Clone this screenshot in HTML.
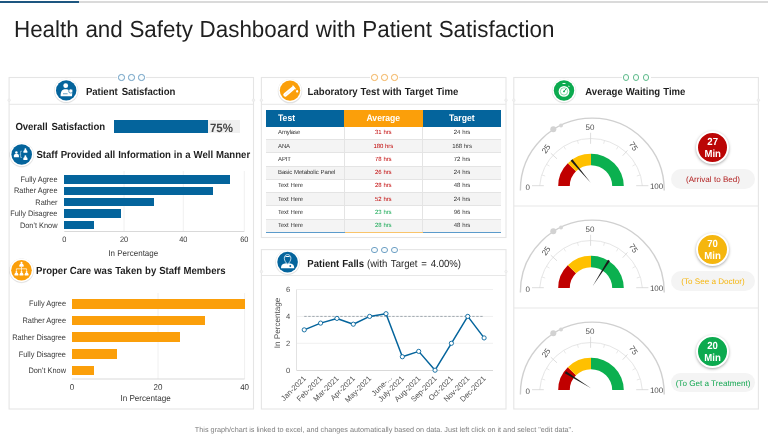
<!DOCTYPE html>
<html>
<head>
<meta charset="utf-8">
<title>Health and Safety Dashboard with Patient Satisfaction</title>
<style>
  html, body { margin: 0; padding: 0; background: #ffffff; }
  body { width: 768px; height: 436px; overflow: hidden; font-family: "Liberation Sans", sans-serif; color: #1f1f1f; text-rendering: geometricPrecision; }
  #page { will-change: transform; filter: blur(0.4px); position: relative; width: 768px; height: 436px; background: #ffffff; overflow: hidden; }
  .abs { position: absolute; white-space: nowrap; }
  .topline-gray { left: 0; top: 1px; width: 768px; height: 2px; background: #dadada; }
  .topline-blue { left: 0; top: 1px; width: 78.8px; height: 2px; background: #1d5680; }
  h1 { position: absolute; margin: 0; left: 14px; top: 17px; font-size: 22.4px; line-height: 26px; font-weight: normal; color: #1f1f1f; white-space: nowrap; word-spacing: 0.45px; transform: scale(1, 1.035); transform-origin: 0 21px; }
  .dots { position: absolute; height: 7px; width: 29px; background: #ffffff; }
  .dots i { position: absolute; top: 0px; width: 4.4px; height: 4.4px; border-radius: 50%; border: 0.8px solid #6d9fc4; background: #f8fcfd; }
  .dots i:nth-child(1) { left: 1.25px; } .dots i:nth-child(2) { left: 11.25px; } .dots i:nth-child(3) { left: 21.25px; }
  .dots.o i { border-color: #f3b25c; background: #fffdf8; }
  .dots.g i { border-color: #5fbb8c; background: #f9fdfb; }
  .ptitle { position: absolute; font-weight: bold; font-size: 9.6px; line-height: 12px; color: #1f1f1f; white-space: nowrap; transform: scale(1, 1.07); transform-origin: 0 8px; word-spacing: 0.25px; }
  .ptitle span { font-weight: normal; word-spacing: 1.1px; }
  .lbl { position: absolute; font-size: 7.4px; line-height: 9px; color: #383838; white-space: nowrap; transform: scale(1, 1.06); transform-origin: 50% 6.5px; }
  .lbl.r { text-align: right; }
  .lbl.c { text-align: center; }
  .bar { position: absolute; background: #04649c; z-index: 2; }
  .bar.o { background: #fb9f0a; }
  table.lab { position: absolute; left: 266px; top: 110.4px; width: 235px; border-collapse: collapse; table-layout: fixed; font-size: 6px; letter-spacing: -0.12px; word-spacing: 0.4px; color: #333333; }
  table.lab th span { display: inline-block; transform: scale(1, 1.09); transform-origin: 50% 75%; }
  table.lab th { height: 16px; padding: 0 0 0.4px 0; color: #ffffff; font-size: 8.6px; letter-spacing: 0; font-weight: bold; background: #04649c; text-align: center; }
  table.lab th.t { text-align: left; padding-left: 12px; }
  table.lab th.a { background: #fb9f0a; }
  table.lab td { height: 10.7px; padding: 1.6px 0 0 0; text-align: center; border-bottom: 1px solid #e4e4e4; border-right: 1px solid #e4e4e4; line-height: 7px; }
  table.lab td:first-child { text-align: left; padding-left: 12px; }
  table.lab td:last-child { border-right: none; }
  table.lab tr.alt td { background: #f4f4f4; }
  table.lab tr:last-child td { border-bottom: 1px solid #5b9bcb; }
  table.lab tr:last-child td:nth-child(2) { border-bottom-color: #f9c46a; }
  table.lab td.red { color: #c00000; }
  table.lab td.grn { color: #12a650; }
  .badge { position: absolute; width: 29.3px; height: 29.3px; border-radius: 50%; border: 2px solid #ffffff; box-shadow: 0 1px 3px rgba(0,0,0,0.35); color: #ffffff; font-weight: bold; font-size: 9.6px; line-height: 10.9px; text-align: center; box-sizing: content-box; }
  .badge b { display: block; padding-top: 4.6px; transform: scale(1, 1.07); transform-origin: 50% 50%; }
  .pill { position: absolute; left: 671px; width: 84px; height: 19.6px; border-radius: 10px; background: #f4f4f4; font-size: 8.1px; line-height: 21px; text-align: center; white-space: nowrap; }
  .footer { position: absolute; left: 0; width: 768px; top: 425px; text-align: center; font-size: 7.26px; line-height: 9px; color: #7f7f7f; white-space: nowrap; }
  svg { position: absolute; left: 0; top: 0; overflow: visible; }
  svg text { font-family: "Liberation Sans", sans-serif; text-rendering: geometricPrecision; }
</style>
</head>
<body>
<div id="page">
  <div class="abs topline-gray"></div>
  <div class="abs topline-blue"></div>
  <h1>Health and Safety Dashboard with Patient Satisfaction</h1>

  <!-- PANELS (background svg) -->
  <svg id="bg" width="768" height="436" viewBox="0 0 768 436">
<!--BG-START-->
<g id="panels" fill="#ffffff" stroke="#e5e5e5" stroke-width="1.1">
<rect x="9.1" y="77.5" width="244.40" height="331.50"/>
<rect x="261.4" y="77.5" width="244.60" height="160.00"/>
<rect x="261.4" y="249.6" width="244.60" height="159.40"/>
<rect x="513.8" y="77.5" width="244.60" height="331.50"/>
</g>
<g id="seps" stroke="#e7e7e7" stroke-width="1">
<line x1="9.1" y1="104.3" x2="253.5" y2="104.3"/>
<line x1="261.4" y1="104.3" x2="506" y2="104.3"/>
<line x1="261.4" y1="275.5" x2="506" y2="275.5"/>
<line x1="513.8" y1="104.3" x2="758.4" y2="104.3"/>
<line x1="513.8" y1="206" x2="758.4" y2="206"/>
<line x1="513.8" y1="308" x2="758.4" y2="308"/>
</g>
<g id="pins" fill="#f1f1f1" stroke="#e6e6e6" stroke-width="0.6">
<circle cx="9.1" cy="100.2" r="1.3"/>
<circle cx="253.5" cy="100.2" r="1.3"/>
<circle cx="261.4" cy="100.2" r="1.3"/>
<circle cx="506" cy="100.2" r="1.3"/>
<circle cx="513.8" cy="100.2" r="1.3"/>
<circle cx="758.4" cy="100.2" r="1.3"/>
<circle cx="261.4" cy="271.6" r="1.3"/>
<circle cx="506" cy="271.6" r="1.3"/>
</g>
<g id="grid1" stroke="#f0f0f0" stroke-width="1" fill="none">
<line x1="124" y1="171" x2="124" y2="231.5"/>
<line x1="183.3" y1="171" x2="183.3" y2="231.5"/>
<line x1="244.3" y1="171" x2="244.3" y2="231.5"/>
<line x1="64.3" y1="231.5" x2="244.3" y2="231.5" stroke="#d9d9d9"/>
</g>
<g id="grid2" stroke="#f0f0f0" stroke-width="1" fill="none">
<line x1="158" y1="293" x2="158" y2="379"/>
<line x1="244.6" y1="293" x2="244.6" y2="379"/>
<line x1="71.9" y1="379" x2="244.6" y2="379" stroke="#d9d9d9"/>
</g>
<!--BG-END-->
  </svg>

  <div class="dots" style="left:117px; top:74.3px;"><i></i><i></i><i></i></div>
  <div class="dots o" style="left:370px; top:74.3px;"><i></i><i></i><i></i></div>
  <div class="dots" style="left:370px; top:246.5px;"><i></i><i></i><i></i></div>
  <div class="dots g" style="left:621.6px; top:74.3px;"><i></i><i></i><i></i></div>

  <!-- PANEL TITLES -->
  <div class="ptitle" style="left:86px; top:86.7px; word-spacing:1.5px; letter-spacing:-0.06px;">Patient Satisfaction</div>
  <div class="ptitle" style="left:307.6px; top:86.9px;">Laboratory Test with Target Time</div>
  <div class="ptitle" style="left:585.3px; top:86.9px; word-spacing:0.4px;">Average Waiting Time</div>
  <div class="ptitle" style="left:307.3px; top:258.9px;">Patient Falls <span>(with Target = 4.00%)</span></div>

  <!-- LEFT PANEL CONTENT -->
  <div class="ptitle" style="left:15.4px; top:121.5px; word-spacing:1.3px; letter-spacing:-0.06px;">Overall Satisfaction</div>
  <div class="abs" style="left:208px; top:120.2px; width:32px; height:12.5px; background:#f0f0f0;"></div>
  <div class="bar" style="left:113.9px; top:120.2px; width:94.1px; height:12.5px;"></div>
  <div class="abs" style="left:209.9px; top:121.9px; font-size:11.5px; font-weight:bold; line-height:14px; color:#454545; transform:scale(1,1.06); transform-origin:0 10px;">75%</div>

  <div class="ptitle" style="left:36.4px; top:149.8px;">Staff Provided all Information in a Well Manner</div>
  <div class="ptitle" style="left:36px; top:265.5px;">Proper Care was Taken by Staff Members</div>

  <!-- bar chart 1 -->
  <div class="lbl r" style="left:0; width:57.5px; top:174.8px;">Fully Agree</div>
  <div class="lbl r" style="left:0; width:57.5px; top:186.3px;">Rather Agree</div>
  <div class="lbl r" style="left:0; width:57.5px; top:197.7px;">Rather</div>
  <div class="lbl r" style="left:0; width:57.5px; top:209.1px;">Fully Disagree</div>
  <div class="lbl r" style="left:0; width:57.5px; top:220.5px;">Don't Know</div>
  <div class="bar" style="left:64.3px; top:175px;   width:165.4px; height:8.6px;"></div>
  <div class="bar" style="left:64.3px; top:186.5px; width:149px;   height:8.6px;"></div>
  <div class="bar" style="left:64.3px; top:197.9px; width:89.7px;  height:8.6px;"></div>
  <div class="bar" style="left:64.3px; top:209.3px; width:56.7px;  height:8.6px;"></div>
  <div class="bar" style="left:64.3px; top:220.7px; width:29.7px;  height:8.6px;"></div>
  <div class="lbl c" style="left:54.3px; width:20px; top:235.4px;">0</div>
  <div class="lbl c" style="left:114px; width:20px; top:235.4px;">20</div>
  <div class="lbl c" style="left:173.3px; width:20px; top:235.4px;">40</div>
  <div class="lbl c" style="left:234.3px; width:20px; top:235.4px;">60</div>
  <div class="lbl c" style="left:93.3px; width:80px; top:249px; font-size:8px;">In Percentage</div>

  <!-- bar chart 2 -->
  <div class="lbl r" style="left:0; width:66px; top:299.3px;">Fully Agree</div>
  <div class="lbl r" style="left:0; width:66px; top:316px;">Rather Agree</div>
  <div class="lbl r" style="left:0; width:66px; top:332.5px;">Rather Disagree</div>
  <div class="lbl r" style="left:0; width:66px; top:349.5px;">Fully Disagree</div>
  <div class="lbl r" style="left:0; width:66px; top:366px;">Don't Know</div>
  <div class="bar o" style="left:71.9px; top:299px;   width:172.7px; height:9.5px;"></div>
  <div class="bar o" style="left:71.9px; top:315.7px; width:132.7px; height:9.5px;"></div>
  <div class="bar o" style="left:71.9px; top:332.3px; width:108.5px; height:9.5px;"></div>
  <div class="bar o" style="left:71.9px; top:349.2px; width:45.1px;  height:9.5px;"></div>
  <div class="bar o" style="left:71.9px; top:365.7px; width:22px;    height:9.5px;"></div>
  <div class="lbl c" style="left:61.9px; width:20px; top:382.9px; font-size:8px;">0</div>
  <div class="lbl c" style="left:148px; width:20px; top:382.9px; font-size:8px;">20</div>
  <div class="lbl c" style="left:234.6px; width:20px; top:382.9px; font-size:8px;">40</div>
  <div class="lbl c" style="left:105.6px; width:80px; top:394.2px; font-size:8.1px;">In Percentage</div>

  <!-- LAB TABLE -->
  <table class="lab">
    <colgroup><col style="width:78px"><col style="width:78.6px"><col style="width:78.4px"></colgroup>
    <tr><th class="t"><span>Test</span></th><th class="a"><span>Average</span></th><th><span>Target</span></th></tr>
    <tr><td>Amylase</td><td class="red">31 hrs</td><td>24 hrs</td></tr>
    <tr class="alt"><td>ANA</td><td class="red">180 hrs</td><td>168 hrs</td></tr>
    <tr><td>APIT</td><td class="red">78 hrs</td><td>72 hrs</td></tr>
    <tr class="alt"><td>Basic Metabolic Panel</td><td class="red">26 hrs</td><td>24 hrs</td></tr>
    <tr><td>Text Here</td><td class="red">28 hrs</td><td>48 hrs</td></tr>
    <tr class="alt"><td>Text Here</td><td class="red">52 hrs</td><td>24 hrs</td></tr>
    <tr><td>Text Here</td><td class="grn">23 hrs</td><td>96 hrs</td></tr>
    <tr class="alt"><td>Text Here</td><td class="grn">28 hrs</td><td>48 hrs</td></tr>
  </table>

  <!-- BADGES -->
  <div class="badge" style="left:696.05px; top:131.05px; background:#bb0505;"><b>27<br>Min</b></div>
  <div class="badge" style="left:695.95px; top:232.55px; background:#f5b60f;"><b>70<br>Min</b></div>
  <div class="badge" style="left:695.95px; top:334.65px; background:#0caa4f;"><b>20<br>Min</b></div>
  <div class="pill" style="top:169.3px; color:#b22222;">(Arrival to Bed)</div>
  <div class="pill" style="top:271.2px; color:#f5b60f;">(To See a Doctor)</div>
  <div class="pill" style="top:372.8px; color:#12a650;">(To Get a Treatment)</div>

  <div class="footer">This graph/chart is linked to excel, and changes automatically based on data. Just left click on it and select "edit data".</div>

  <!-- SVG LAYER : charts, gauges, icons -->
  <svg id="gfx" width="768" height="436" viewBox="0 0 768 436">
<!--SVG-START-->
<g id="linechart">
<g stroke="#f0f0f0" stroke-width="1">
<line x1="296.5" y1="343.30" x2="493" y2="343.30"/>
<line x1="296.5" y1="316.40" x2="493" y2="316.40"/>
<line x1="296.5" y1="289.50" x2="493" y2="289.50"/>
<line x1="296.5" y1="289.50" x2="296.5" y2="370.20" stroke="#e2e2e2"/>
<line x1="296.5" y1="370.50" x2="493" y2="370.50" stroke="#d9d9d9"/>
</g>
<line x1="304.25" y1="316.40" x2="484.10" y2="316.40" stroke="#8a959e" stroke-width="0.8" stroke-dasharray="2.4 1.6"/>
<polyline points="304.25,329.85 320.60,323.12 336.95,318.42 353.30,324.20 369.65,316.40 386.00,313.71 402.35,356.75 418.70,351.37 435.05,370.20 451.40,343.30 467.75,316.40 484.10,337.92" fill="none" stroke="#04649c" stroke-width="1.5" stroke-linejoin="round"/>
<circle cx="304.25" cy="329.85" r="2.1" fill="#ffffff" stroke="#04649c" stroke-width="0.9"/>
<circle cx="320.60" cy="323.12" r="2.1" fill="#ffffff" stroke="#04649c" stroke-width="0.9"/>
<circle cx="336.95" cy="318.42" r="2.1" fill="#ffffff" stroke="#04649c" stroke-width="0.9"/>
<circle cx="353.30" cy="324.20" r="2.1" fill="#ffffff" stroke="#04649c" stroke-width="0.9"/>
<circle cx="369.65" cy="316.40" r="2.1" fill="#ffffff" stroke="#04649c" stroke-width="0.9"/>
<circle cx="386.00" cy="313.71" r="2.1" fill="#ffffff" stroke="#04649c" stroke-width="0.9"/>
<circle cx="402.35" cy="356.75" r="2.1" fill="#ffffff" stroke="#04649c" stroke-width="0.9"/>
<circle cx="418.70" cy="351.37" r="2.1" fill="#ffffff" stroke="#04649c" stroke-width="0.9"/>
<circle cx="435.05" cy="370.20" r="2.1" fill="#ffffff" stroke="#04649c" stroke-width="0.9"/>
<circle cx="451.40" cy="343.30" r="2.1" fill="#ffffff" stroke="#04649c" stroke-width="0.9"/>
<circle cx="467.75" cy="316.40" r="2.1" fill="#ffffff" stroke="#04649c" stroke-width="0.9"/>
<circle cx="484.10" cy="337.92" r="2.1" fill="#ffffff" stroke="#04649c" stroke-width="0.9"/>
<g font-size="7.6" fill="#505050">
<text x="288" y="372.90" text-anchor="middle">0</text>
<text x="288" y="346.00" text-anchor="middle">2</text>
<text x="288" y="319.10" text-anchor="middle">4</text>
<text x="288" y="292.20" text-anchor="middle">6</text>
<text transform="translate(280.3,323) rotate(-90)" text-anchor="middle" font-size="8.1">In Percentage</text>
<text transform="translate(306.45,379.0) rotate(-45)" text-anchor="end">Jan-2021</text>
<text transform="translate(322.80,379.0) rotate(-45)" text-anchor="end">Feb-2021</text>
<text transform="translate(339.15,379.0) rotate(-45)" text-anchor="end">Mar-2021</text>
<text transform="translate(355.50,379.0) rotate(-45)" text-anchor="end">Apr-2021</text>
<text transform="translate(371.85,379.0) rotate(-45)" text-anchor="end">May-2021</text>
<text transform="translate(392.40,378.6) rotate(-45)" text-anchor="end">June-...</text>
<text transform="translate(404.55,379.0) rotate(-45)" text-anchor="end">July-2021</text>
<text transform="translate(420.90,379.0) rotate(-45)" text-anchor="end">Aug-2021</text>
<text transform="translate(437.25,379.0) rotate(-45)" text-anchor="end">Sep-2021</text>
<text transform="translate(453.60,379.0) rotate(-45)" text-anchor="end">Oct-2021</text>
<text transform="translate(469.95,379.0) rotate(-45)" text-anchor="end">Nov-2021</text>
<text transform="translate(486.30,379.0) rotate(-45)" text-anchor="end">Dec-2021</text>
</g>
</g>
<g id="gauge1">
<path d="M520.40,190.60 L520.40,190.00 A71.9,71.9 0 0 1 664.20,190.00 L664.20,190.60" fill="none" stroke="#d0d0d0" stroke-width="1.4"/>
<circle cx="553.3" cy="129.30" r="3" fill="#d2d2d2"/>
<circle cx="561" cy="125.40" r="2" fill="#d6d6d6"/>
<path d="M539.66,185.96 A51.5,51.5 0 0 1 642.34,185.96" fill="none" stroke="#e6e6e6" stroke-width="1"/>
<g stroke="#e2e2e2" stroke-width="0.8">
<line x1="541.75" y1="174.94" x2="545.19" y2="176.00"/>
<line x1="546.40" y1="164.25" x2="549.52" y2="166.05"/>
<line x1="563.71" y1="146.33" x2="565.62" y2="149.38"/>
<line x1="577.41" y1="140.33" x2="578.36" y2="143.80"/>
<line x1="604.59" y1="140.33" x2="603.64" y2="143.80"/>
<line x1="618.29" y1="146.33" x2="616.38" y2="149.38"/>
<line x1="635.60" y1="164.25" x2="632.48" y2="166.05"/>
<line x1="640.25" y1="174.94" x2="636.81" y2="176.00"/>
</g>
<g stroke="#d9d9d9" stroke-width="0.9">
<line x1="532" y1="185.70" x2="543.8" y2="185.70"/>
<line x1="636.2" y1="185.70" x2="648.4" y2="185.70"/>
<line x1="590.6" y1="132.80" x2="590.6" y2="143.80"/>
<line x1="550.8" y1="153.20" x2="557" y2="158.80"/>
<line x1="627.5" y1="150.40" x2="622.7" y2="155.70"/>
</g>
<g font-size="8" fill="#505050" text-anchor="middle">
<text x="527.8" y="189.70">0</text>
<text x="656.6" y="189.20">100</text>
<text x="590" y="129.90">50</text>
<text transform="translate(545.8,148.80) rotate(-55)" y="2.9">25</text>
<text transform="translate(633.6,146.10) rotate(57)" y="2.9">75</text>
</g>
<g transform="translate(0,185.90) scale(1,0.977) translate(0,-185.80)">
<path d="M558.20,185.80 A32.8,32.8 0 0 1 567.81,162.61 L576.01,170.81 A21.2,21.2 0 0 0 569.80,185.80 Z" fill="#c00000"/>
<path d="M567.81,162.61 A32.8,32.8 0 0 1 591.00,153.00 L591.00,164.60 A21.2,21.2 0 0 0 576.01,170.81 Z" fill="#ffc000"/>
<path d="M591.00,153.00 A32.8,32.8 0 0 1 623.80,185.80 L612.20,185.80 A21.2,21.2 0 0 0 591.00,164.60 Z" fill="#0bb04f"/>
</g>
<path d="M590.70,182.80 L572.38,159.36 L570.62,160.84 Z" fill="#1a1a1a"/>
</g>
<g id="gauge2">
<path d="M520.40,292.60 L520.40,292.00 A71.9,71.9 0 0 1 664.20,292.00 L664.20,292.60" fill="none" stroke="#d0d0d0" stroke-width="1.4"/>
<circle cx="553.3" cy="231.30" r="3" fill="#d2d2d2"/>
<circle cx="561" cy="227.40" r="2" fill="#d6d6d6"/>
<path d="M539.66,287.96 A51.5,51.5 0 0 1 642.34,287.96" fill="none" stroke="#e6e6e6" stroke-width="1"/>
<g stroke="#e2e2e2" stroke-width="0.8">
<line x1="541.75" y1="276.94" x2="545.19" y2="278.00"/>
<line x1="546.40" y1="266.25" x2="549.52" y2="268.05"/>
<line x1="563.71" y1="248.33" x2="565.62" y2="251.38"/>
<line x1="577.41" y1="242.33" x2="578.36" y2="245.80"/>
<line x1="604.59" y1="242.33" x2="603.64" y2="245.80"/>
<line x1="618.29" y1="248.33" x2="616.38" y2="251.38"/>
<line x1="635.60" y1="266.25" x2="632.48" y2="268.05"/>
<line x1="640.25" y1="276.94" x2="636.81" y2="278.00"/>
</g>
<g stroke="#d9d9d9" stroke-width="0.9">
<line x1="532" y1="287.70" x2="543.8" y2="287.70"/>
<line x1="636.2" y1="287.70" x2="648.4" y2="287.70"/>
<line x1="590.6" y1="234.80" x2="590.6" y2="245.80"/>
<line x1="550.8" y1="255.20" x2="557" y2="260.80"/>
<line x1="627.5" y1="252.40" x2="622.7" y2="257.70"/>
</g>
<g font-size="8" fill="#505050" text-anchor="middle">
<text x="527.8" y="291.70">0</text>
<text x="656.6" y="291.20">100</text>
<text x="590" y="231.90">50</text>
<text transform="translate(545.8,250.80) rotate(-55)" y="2.9">25</text>
<text transform="translate(633.6,248.10) rotate(57)" y="2.9">75</text>
</g>
<g transform="translate(0,287.90) scale(1,0.977) translate(0,-287.80)">
<path d="M558.20,287.80 A32.8,32.8 0 0 1 567.81,264.61 L576.01,272.81 A21.2,21.2 0 0 0 569.80,287.80 Z" fill="#c00000"/>
<path d="M567.81,264.61 A32.8,32.8 0 0 1 591.00,255.00 L591.00,266.60 A21.2,21.2 0 0 0 576.01,272.81 Z" fill="#ffc000"/>
<path d="M591.00,255.00 A32.8,32.8 0 0 1 623.80,287.80 L612.20,287.80 A21.2,21.2 0 0 0 591.00,266.60 Z" fill="#0bb04f"/>
</g>
<path d="M592.60,286.20 L609.94,261.02 L608.00,259.78 Z" fill="#1a1a1a"/>
</g>
<g id="gauge3">
<path d="M520.40,394.60 L520.40,394.00 A71.9,71.9 0 0 1 664.20,394.00 L664.20,394.60" fill="none" stroke="#d0d0d0" stroke-width="1.4"/>
<circle cx="553.3" cy="333.30" r="3" fill="#d2d2d2"/>
<circle cx="561" cy="329.40" r="2" fill="#d6d6d6"/>
<path d="M539.66,389.96 A51.5,51.5 0 0 1 642.34,389.96" fill="none" stroke="#e6e6e6" stroke-width="1"/>
<g stroke="#e2e2e2" stroke-width="0.8">
<line x1="541.75" y1="378.94" x2="545.19" y2="380.00"/>
<line x1="546.40" y1="368.25" x2="549.52" y2="370.05"/>
<line x1="563.71" y1="350.33" x2="565.62" y2="353.38"/>
<line x1="577.41" y1="344.33" x2="578.36" y2="347.80"/>
<line x1="604.59" y1="344.33" x2="603.64" y2="347.80"/>
<line x1="618.29" y1="350.33" x2="616.38" y2="353.38"/>
<line x1="635.60" y1="368.25" x2="632.48" y2="370.05"/>
<line x1="640.25" y1="378.94" x2="636.81" y2="380.00"/>
</g>
<g stroke="#d9d9d9" stroke-width="0.9">
<line x1="532" y1="389.70" x2="543.8" y2="389.70"/>
<line x1="636.2" y1="389.70" x2="648.4" y2="389.70"/>
<line x1="590.6" y1="336.80" x2="590.6" y2="347.80"/>
<line x1="550.8" y1="357.20" x2="557" y2="362.80"/>
<line x1="627.5" y1="354.40" x2="622.7" y2="359.70"/>
</g>
<g font-size="8" fill="#505050" text-anchor="middle">
<text x="527.8" y="393.70">0</text>
<text x="656.6" y="393.20">100</text>
<text x="590" y="333.90">50</text>
<text transform="translate(545.8,352.80) rotate(-55)" y="2.9">25</text>
<text transform="translate(633.6,350.10) rotate(57)" y="2.9">75</text>
</g>
<g transform="translate(0,389.90) scale(1,0.977) translate(0,-389.80)">
<path d="M558.20,389.80 A32.8,32.8 0 0 1 567.81,366.61 L576.01,374.81 A21.2,21.2 0 0 0 569.80,389.80 Z" fill="#c00000"/>
<path d="M567.81,366.61 A32.8,32.8 0 0 1 591.00,357.00 L591.00,368.60 A21.2,21.2 0 0 0 576.01,374.81 Z" fill="#ffc000"/>
<path d="M591.00,357.00 A32.8,32.8 0 0 1 623.80,389.80 L612.20,389.80 A21.2,21.2 0 0 0 591.00,368.60 Z" fill="#0bb04f"/>
</g>
<path d="M591.10,388.20 L566.01,371.32 L564.79,373.28 Z" fill="#1a1a1a"/>
</g>
<g id="ico-ps">
<circle cx="66.2" cy="91.0" r="12.299999999999999" fill="#000" opacity="0.07"/>
<circle cx="66.2" cy="90.7" r="12.0" fill="#000" opacity="0.07"/>
<circle cx="66.2" cy="90.4" r="11.7" fill="#ffffff"/>
<circle cx="66.2" cy="90.4" r="10.2" fill="#04649c"/>
<circle cx="65.7" cy="85.7" r="2.4" fill="#fff"/>
<path d="M60.6,96.2 C60.6,90.6 62.6,89.3 65.7,89.3 C67.6,89.3 68.9,89.8 69.8,90.8 L72.3,92.6 L72,96.2 Z" fill="#fff"/>
<circle cx="70.8" cy="91" r="2.1" fill="#fff" stroke="#04649c" stroke-width="0.6"/>
<rect x="63" y="93.2" width="4.6" height="1.1" fill="#04649c" opacity="0.55"/>
</g>
<g id="ico-staff">
<circle cx="21.7" cy="155.1" r="12.4" fill="#000" opacity="0.07"/>
<circle cx="21.7" cy="154.8" r="12.100000000000001" fill="#000" opacity="0.07"/>
<circle cx="21.7" cy="154.5" r="11.8" fill="#ffffff"/>
<circle cx="21.7" cy="154.5" r="10.3" fill="#04649c"/>
<circle cx="16.4" cy="152.58" r="1.24" fill="#fff"/>
<path d="M13.87,157.26 V155.42 Q13.87,153.70 16.4,153.70 Q18.93,153.70 18.93,155.42 V157.26 Z" fill="#fff"/>
<circle cx="25.4" cy="149.15" r="0.97" fill="#fff"/>
<path d="M23.42,152.82 V151.38 Q23.42,150.03 25.4,150.03 Q27.38,150.03 27.38,151.38 V152.82 Z" fill="#fff"/>
<circle cx="25.4" cy="156.21" r="1.00" fill="#fff"/>
<path d="M23.35,159.99 V158.51 Q23.35,157.11 25.4,157.11 Q27.45,157.11 27.45,158.51 V159.99 Z" fill="#fff"/>
<path d="M22,151.2 L20.6,151.2 L20.6,157.4 L22,157.4 M19.6,154.3 L20.6,154.3" fill="none" stroke="#a9cbe0" stroke-width="0.7"/>
</g>
<g id="ico-care">
<circle cx="21.5" cy="270.8" r="12.4" fill="#000" opacity="0.07"/>
<circle cx="21.5" cy="270.5" r="12.100000000000001" fill="#000" opacity="0.07"/>
<circle cx="21.5" cy="270.2" r="11.8" fill="#ffffff"/>
<circle cx="21.5" cy="270.2" r="10.3" fill="#fb9f0a"/>
<circle cx="21.5" cy="262.88" r="1.03" fill="#fff"/>
<path d="M19.41,266.75 V265.23 Q19.41,263.80 21.5,263.80 Q23.59,263.80 23.59,265.23 V266.75 Z" fill="#fff"/>
<path d="M21.5,266.8 V268.8 M16.4,270.9 V268.8 H26.6 V270.9 M21.5,268.8 V270.9" fill="none" stroke="#fff" stroke-width="0.7"/>
<circle cx="16.4" cy="272.03" r="0.92" fill="#fff"/>
<path d="M14.53,275.49 V274.13 Q14.53,272.85 16.4,272.85 Q18.27,272.85 18.27,274.13 V275.49 Z" fill="#fff"/>
<circle cx="21.5" cy="272.03" r="0.92" fill="#fff"/>
<path d="M19.63,275.49 V274.13 Q19.63,272.85 21.5,272.85 Q23.37,272.85 23.37,274.13 V275.49 Z" fill="#fff"/>
<circle cx="26.6" cy="272.03" r="0.92" fill="#fff"/>
<path d="M24.73,275.49 V274.13 Q24.73,272.85 26.6,272.85 Q28.47,272.85 28.47,274.13 V275.49 Z" fill="#fff"/>
</g>
<g id="ico-lab">
<circle cx="290" cy="91.19999999999999" r="12.299999999999999" fill="#000" opacity="0.07"/>
<circle cx="290" cy="90.89999999999999" r="12.0" fill="#000" opacity="0.07"/>
<circle cx="290" cy="90.6" r="11.7" fill="#ffffff"/>
<circle cx="290" cy="90.6" r="10.2" fill="#fb9f0a"/>
<g transform="translate(289.3,91.4) rotate(-40)"><rect x="-7.2" y="-1.95" width="13.8" height="3.9" rx="1.9" fill="#fff"/><rect x="5.6" y="-2.4" width="1.2" height="4.8" rx="0.5" fill="#fff"/><rect x="-5.4" y="-0.2" width="7" height="0.5" fill="#fb9f0a" opacity="0.35"/></g>
<ellipse cx="297.1" cy="91.3" rx="1.0" ry="1.4" fill="#fff"/>
</g>
<g id="ico-pf">
<circle cx="287.6" cy="262.70000000000005" r="12.4" fill="#000" opacity="0.07"/>
<circle cx="287.6" cy="262.40000000000003" r="12.100000000000001" fill="#000" opacity="0.07"/>
<circle cx="287.6" cy="262.1" r="11.8" fill="#ffffff"/>
<circle cx="287.6" cy="262.1" r="10.3" fill="#04649c"/>
<path d="M281,268.2 C281,264 283.6,263.2 287.6,263.2 C291.6,263.2 294.2,264 294.2,268.2 Z" fill="#fff"/>
<path d="M287.6,254.6 C285.4,254.6 284.3,256.2 284.3,258.2 C284.3,260.6 286,262.8 287.6,264.2 C289.2,262.8 290.9,260.6 290.9,258.2 C290.9,256.2 289.8,254.6 287.6,254.6 Z" fill="#04649c" stroke="#cfe3f0" stroke-width="0.9"/>
<path d="M284.6,257.4 C285.6,255.5 289.6,255.5 290.6,257.4 C289.6,256.9 285.6,256.9 284.6,257.4 Z" fill="#fff"/>
<circle cx="290.3" cy="266" r="0.9" fill="#04649c"/>
</g>
<g id="ico-time">
<circle cx="564" cy="91.1" r="12.299999999999999" fill="#000" opacity="0.07"/>
<circle cx="564" cy="90.8" r="12.0" fill="#000" opacity="0.07"/>
<circle cx="564" cy="90.5" r="11.7" fill="#ffffff"/>
<circle cx="564" cy="90.5" r="10.2" fill="#0caa4f"/>
<circle cx="564" cy="91.4" r="5.4" fill="#fff"/>
<circle cx="564" cy="91.4" r="3.7" fill="none" stroke="#0caa4f" stroke-width="0.6" opacity="0.8"/>
<path d="M564,91.4 L566,88.9" stroke="#0caa4f" stroke-width="0.9" stroke-linecap="round"/>
<circle cx="564" cy="91.4" r="0.9" fill="#0caa4f"/>
<rect x="562.4" y="83.0" width="3.2" height="1.1" rx="0.4" fill="#fff" opacity="0.9"/>
<rect x="568.2" y="85.8" width="1.4" height="1" transform="rotate(40 568.9 86.3)" fill="#fff" opacity="0.8"/>
</g>
<!--SVG-END-->
  </svg>
</div>
</body>
</html>
